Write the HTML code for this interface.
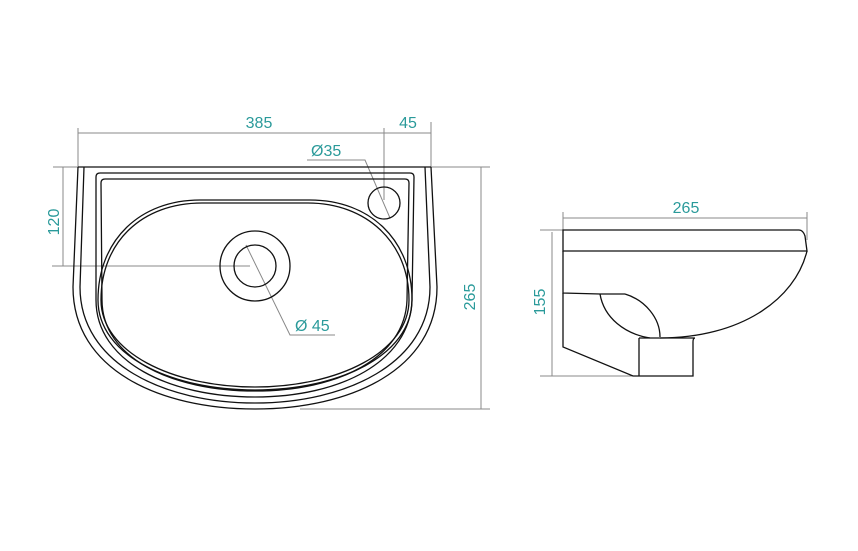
<!DOCTYPE html>
<html><head><style>body{margin:0;background:#fff}</style></head><body>
<svg width="858" height="546" viewBox="0 0 858 546" xmlns="http://www.w3.org/2000/svg">
<g fill="none" stroke="#888" stroke-width="1">
<line x1="78" y1="133" x2="431" y2="133"/>
<line x1="78" y1="128" x2="78" y2="167"/>
<line x1="384" y1="128" x2="384" y2="200"/>
<line x1="431" y1="122" x2="431" y2="167"/>
<line x1="53" y1="167" x2="490" y2="167"/>
<line x1="63" y1="167" x2="63" y2="266"/>
<line x1="52" y1="266" x2="250" y2="266"/>
<line x1="481" y1="167" x2="481" y2="409"/>
<line x1="300" y1="409" x2="490" y2="409"/>
<polyline points="307,160 365,160 390,218"/>
<polyline points="246,245 290,335 335,335"/>
<line x1="563" y1="218" x2="807" y2="218"/>
<line x1="563" y1="212" x2="563" y2="230"/>
<line x1="807" y1="212" x2="807" y2="240"/>
<line x1="552" y1="232" x2="552" y2="376"/>
<line x1="540" y1="230" x2="563" y2="230"/>
<line x1="540" y1="376" x2="633" y2="376"/>
</g>
<g fill="none" stroke="#111" stroke-width="1.3">
<path d="M78,167 L431,167"/>
<path d="M78,167 L73,287 C73,370 160,409 255,409 C350,409 437,370 437,287 L431,167"/>
<path d="M84,167 L80,287 C80,364 165,403 255,403 C345,403 430,364 430,287 L425,167"/>
<path d="M100,173 L410,173 Q414,173 414,177 L412,300 C410,362 340,397 255,397 C170,397 96,362 96,300 L96,177 Q96,173 100,173 Z"/>
<path d="M105,179 L405,179 Q409,179 409,183 L407,300 C405,358 338,391 255,391 C172,391 102,358 102,300 L101,183 Q101,179 105,179 Z"/>
<path d="M200,200 L310,200 C370,200 412,240 412,300 C412,355 340,390 255,390 C170,390 98,355 98,300 C98,240 140,200 200,200 Z"/>
<path d="M202,203 L308,203 C366,203 409,242 409,300 C409,352 338,387 255,387 C172,387 101,352 101,300 C101,242 142,203 202,203 Z"/>
<circle cx="255" cy="266" r="35"/>
<circle cx="255" cy="266" r="21"/>
<circle cx="384" cy="203" r="16"/>
<path d="M563,230 L799,230 Q803,230 805,236 L807,251 L563,251 Z"/>
<path d="M563,251 L563,293 L600,294 L625,294"/>
<path d="M807,251 C795,300 740,338 660,338 L639,338"/>
<path d="M625,294 C645,300 660,318 660,337"/>
<path d="M600,294 C604,318 625,334 650,338"/>
<path d="M563,293 L563,347 L633,376 L693,376 L693,342 Q693,338 695,338 L660,338"/>
<path d="M639,338 L639,376"/>
</g>
<g fill="#2a9a9a" font-family="Liberation Sans, sans-serif" font-size="16">
<text x="259" y="128" text-anchor="middle">385</text>
<text x="408" y="128" text-anchor="middle">45</text>
<text x="311" y="156">Ø35</text>
<text x="295" y="331">Ø 45</text>
<text x="686" y="213" text-anchor="middle">265</text>
<text transform="translate(59,222) rotate(-90)" text-anchor="middle">120</text>
<text transform="translate(475,297) rotate(-90)" text-anchor="middle">265</text>
<text transform="translate(545,302) rotate(-90)" text-anchor="middle">155</text>
</g>
</svg>
</body></html>
